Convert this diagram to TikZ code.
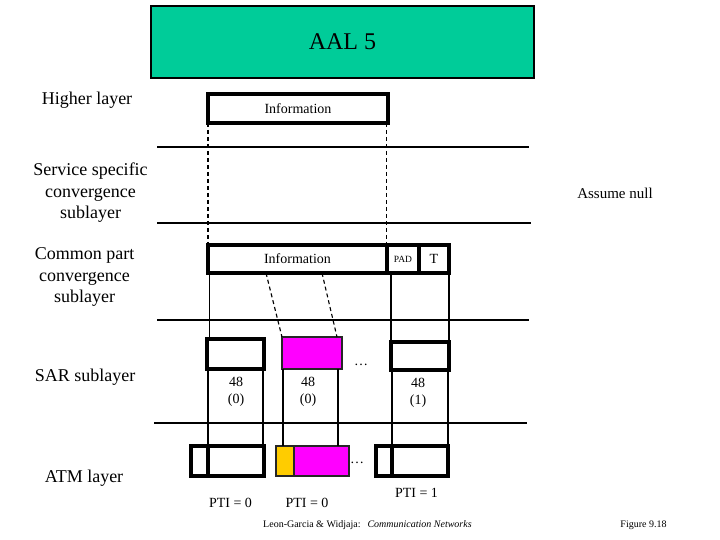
\documentclass[tikz,border=0pt]{standalone}
\usepackage{fontspec}
\setmainfont{Liberation Serif}
\usetikzlibrary{calc}
\definecolor{aalgreen}{HTML}{00CC99}
\definecolor{cellmag}{HTML}{FF00FF}
\definecolor{hdrorange}{HTML}{FFCC00}
\begin{document}
\begin{tikzpicture}[x=1pt,y=-1pt,
  thickbox/.style={draw=black, line width=3.1pt, inner sep=0pt, outer sep=0pt, font=\fontsize{14}{16}\selectfont},
  thinbox/.style={draw=black!85, line width=1.1pt, inner sep=0pt, outer sep=0pt},
  rule/.style={line width=1.2pt},
  vline/.style={line width=1.1pt},
  divline/.style={line width=3.1pt},
  dashline/.style={dash pattern=on 4pt off 3pt, line width=1.1pt},
  lbl/.style={font=\fontsize{18}{21.5}\selectfont, align=center, inner sep=0pt},
  txt/.style={font=\fontsize{14}{17}\selectfont, align=center, inner sep=0pt},
  small/.style={font=\fontsize{10}{12}\selectfont, inner sep=0pt}
]
\useasboundingbox (0,0) rectangle (720,540);

% title
\node[draw=black, line width=1.1pt, fill=aalgreen, minimum width=383pt, minimum height=72pt,
      inner sep=0pt, font=\fontsize{24}{28}\selectfont] (aal) at (342.5,42) {AAL 5};

% left labels
\node[lbl] (lhigh) at (87,100) {Higher layer};
\node[lbl] (lsscs) at (90.5,193) {Service specific\\convergence\\sublayer};
\node[lbl] (lcpcs) at (84.5,277) {Common part\\convergence\\sublayer};
\node[lbl] (lsar) at (85,377) {SAR sublayer};
\node[lbl] (latm) at (84,478) {ATM layer};

% layer separators
\coordinate (r1a) at (157,147); \coordinate (r1b) at (529,147);
\coordinate (r2a) at (157,223); \coordinate (r2b) at (531,223);
\coordinate (r3a) at (157,320); \coordinate (r3b) at (529,320);
\coordinate (r4a) at (154,423); \coordinate (r4b) at (527,423);
\draw[rule] (r1a) -- (r1b);
\draw[rule] (r2a) -- (r2b);
\draw[rule] (r3a) -- (r3b);
\draw[rule] (r4a) -- (r4b);

\node[font=\fontsize{15}{17}\selectfont, inner sep=0pt] (null) at (615,193) {Assume null};

% higher layer
\node[thickbox, minimum width=180pt, minimum height=29pt] (hinfo) at (298,108.5) {Information};

% CPCS
\node[thickbox, minimum width=179pt, minimum height=28pt] (cinfo) at (297.5,259) {Information};
\node[thickbox, minimum width=32pt, minimum height=28pt, font=\fontsize{9.5}{11}\selectfont] (pad) at (403,259) {PAD};
\node[thickbox, minimum width=30pt, minimum height=28pt] (trl) at (434,259) {T};

\coordinate (hl) at (hinfo.south west);
\coordinate (hr) at ($(hinfo.south east)+(-1.5,0)$);
\coordinate (cl) at (cinfo.north west);
\coordinate (cr) at (hr |- cinfo.north);
\draw[dashline] (hl) -- (cl);
\draw[dashline] (hr) -- (cr);

% SAR
\node[thickbox, minimum width=57pt, minimum height=30pt] (sar1) at (235.5,354) {};
\node[thinbox, fill=cellmag, minimum width=60pt, minimum height=32pt] (sar2) at (312,353) {};
\node[thickbox, minimum width=58pt, minimum height=28pt] (sar3) at (420,356) {};
\node[font=\fontsize{14}{16}\selectfont, inner sep=0pt] (dots1) at (361,365) {\dots};

\coordinate (c1) at ($(cinfo.south west)+(1.5,0)$);
\draw[vline] (c1) -- (c1 |- sar1.north);
\draw[vline] (sar3.north west |- cinfo.south) -- (sar3.north west);
\draw[vline] (trl.south east) -- (sar3.north east);
\coordinate (ca) at ($(cinfo.south west)+(58,0)$);
\coordinate (cb) at ($(cinfo.south west)+(114,0)$);
\coordinate (sb) at ($(sar2.north west)+(55,0)$);
\draw[dashline] (ca) -- (sar2.north west);
\draw[dashline] (cb) -- (sb);

% ATM
\node[thickbox, minimum width=73pt, minimum height=30pt] (atm1) at (227.5,461) {};
\node[thinbox, fill=hdrorange, minimum width=18pt, minimum height=30pt] (hdr2) at (285,461) {};
\node[thinbox, fill=cellmag, minimum width=55pt, minimum height=30pt] (pay2) at (321.5,461) {};
\node[thickbox, minimum width=72pt, minimum height=30pt] (atm3) at (412,461) {};
\node[font=\fontsize{14}{16}\selectfont, inner sep=0pt] (dots2) at (357,463) {\dots};

\coordinate (d1t) at ($(atm1.north west)+(17,0)$);
\coordinate (d1b) at ($(atm1.south west)+(17,0)$);
\draw[divline] (d1t) -- (d1b);
\coordinate (d3t) at ($(atm3.north west)+(16,0)$);
\coordinate (d3b) at ($(atm3.south west)+(16,0)$);
\draw[divline] (d3t) -- (d3b);

% SAR to ATM lines
\coordinate (s1r) at ($(sar1.south east)+(-1,0)$);
\coordinate (s3r) at ($(sar3.south east)+(-1,0)$);
\coordinate (s2l) at ($(sar2.south west)+(1,0)$);
\coordinate (s2r) at ($(sar2.south east)+(-4,0)$);
\draw[vline] (d1t |- sar1.south) -- (d1t);
\draw[vline] (s1r) -- (s1r |- atm1.north);
\draw[vline] (s2l) -- (s2l |- hdr2.north);
\draw[vline] (s2r) -- (s2r |- pay2.north);
\draw[vline] (d3t |- sar3.south) -- (d3t);
\draw[vline] (s3r) -- (s3r |- atm3.north);

% payload labels
\node[txt] (p1) at (236,392) {48\\(0)};
\node[txt] (p2) at (308,392) {48\\(0)};
\node[txt] (p3) at (418,393) {48\\(1)};

% PTI labels
\node[txt] (pti1) at (230.5,503) {PTI = 0};
\node[txt] (pti2) at (307,503) {PTI = 0};
\node[txt] (pti3) at (416.5,493) {PTI = 1};

% footer
\node[small, anchor=west] (cred) at (263,525) {Leon-Garcia \& Widjaja:\hspace{7pt}\textit{Communication Networks}};
\node[small] (fig) at (643.5,525) {Figure 9.18};
\end{tikzpicture}
\end{document}
